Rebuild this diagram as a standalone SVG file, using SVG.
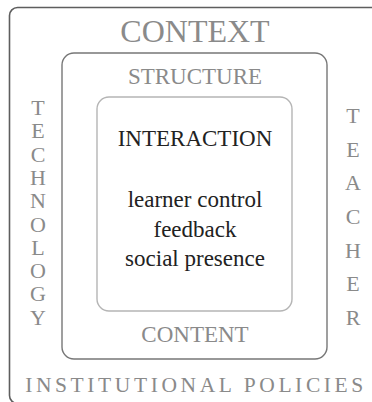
<svg xmlns="http://www.w3.org/2000/svg" width="372" height="402" viewBox="0 0 372 402">
  <style>
    text { font-family: "Liberation Serif", "Times New Roman", serif; text-anchor: middle; }
    .grey { fill: #8a8a8a; }
    .dark { fill: #222222; }
    .big { font-size: 32px; }
    .mid { font-size: 23px; }
    .side { font-size: 22px; }
    .frame { fill: none; }
  </style>
  <rect width="372" height="402" fill="#ffffff"/>

  <!-- outer frame: context (runs past the right and bottom edges) -->
  <g id="context">
    <rect class="frame" x="9.5" y="7.5" width="390" height="396" rx="8" stroke="#5e5e5e" stroke-width="1.6"/>
    <text class="grey big" x="195" y="42">CONTEXT</text>
    <text class="grey" x="196" y="392" font-size="21.5" letter-spacing="3.6">INSTITUTIONAL POLICIES</text>
  </g>

  <!-- left column -->
  <g id="technology" class="grey side">
    <text x="38" y="115">T</text>
    <text x="38" y="138.3">E</text>
    <text x="38" y="161.6">C</text>
    <text x="38" y="184.9">H</text>
    <text x="38" y="208.2">N</text>
    <text x="38" y="231.5">O</text>
    <text x="38" y="254.8">L</text>
    <text x="38" y="278.1">O</text>
    <text x="38" y="301.4">G</text>
    <text x="38" y="324.7">Y</text>
  </g>

  <!-- right column -->
  <g id="teacher" class="grey side">
    <text x="353" y="123">T</text>
    <text x="353" y="156.7">E</text>
    <text x="353" y="190.3">A</text>
    <text x="353" y="224">C</text>
    <text x="353" y="257.7">H</text>
    <text x="353" y="291.3">E</text>
    <text x="353" y="325">R</text>
  </g>

  <!-- middle frame -->
  <g id="structure">
    <rect class="frame" x="62" y="53" width="265" height="306" rx="12" stroke="#777777" stroke-width="1.4"/>
    <text class="grey mid" x="195" y="83.5">STRUCTURE</text>
    <text class="grey mid" x="195" y="342">CONTENT</text>
  </g>

  <!-- inner frame -->
  <g id="interaction">
    <rect class="frame" x="97" y="97" width="195" height="214" rx="12" stroke="#b5b5b5" stroke-width="1.4"/>
    <text class="dark mid" x="195" y="146">INTERACTION</text>
    <text class="dark mid" x="195" y="207">learner control</text>
    <text class="dark mid" x="195" y="236.5">feedback</text>
    <text class="dark mid" x="195" y="265.5">social presence</text>
  </g>
</svg>
